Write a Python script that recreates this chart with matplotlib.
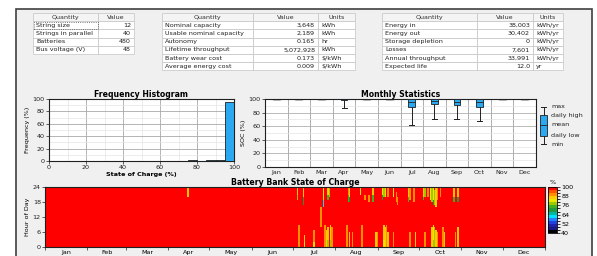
import numpy as np
import matplotlib.pyplot as plt
from matplotlib.patches import Rectangle
from matplotlib.colors import ListedColormap, BoundaryNorm

W, H = 597, 256

# ---- table data ----
t1_header = ["Quantity", "Value"]
t1_quantity = ["String size", "Strings in parallel", "Batteries", "Bus voltage (V)"]
t1_value = ["12", "40", "480", "48"]

t2_header = ["Quantity", "Value", "Units"]
t2_quantity = ["Nominal capacity", "Usable nominal capacity", "Autonomy",
               "Lifetime throughput", "Battery wear cost", "Average energy cost"]
t2_value = ["3,648", "2,189", "0.165", "5,072,928", "0.173", "0.009"]
t2_units = ["kWh", "kWh", "hr", "kWh", "$/kWh", "$/kWh"]

t3_header = ["Quantity", "Value", "Units"]
t3_quantity = ["Energy in", "Energy out", "Storage depletion", "Losses",
               "Annual throughput", "Expected life"]
t3_value = ["38,003", "30,402", "0", "7,601", "33,991", "12.0"]
t3_units = ["kWh/yr", "kWh/yr", "kWh/yr", "kWh/yr", "kWh/yr", "yr"]

# ---- frequency histogram (5% bins) ----
hist_left = [0, 5, 10, 15, 20, 25, 30, 35, 40, 45, 50, 55, 60, 65, 70, 75, 80, 85, 90, 95]
hist_freq = [0, 0, 0, 0, 0, 0, 0, 0, 0, 0, 0, 0, 0, 0, 0, 1.5, 0.2, 1.5, 2.3, 94.5]

# ---- monthly statistics ----
months = ["Jan", "Feb", "Mar", "Apr", "May", "Jun", "Jul", "Aug", "Sep", "Oct", "Nov", "Dec"]
month_days = [31, 28, 31, 30, 31, 30, 31, 31, 30, 31, 30, 31]
soc_max = [100, 100, 100, 100, 100, 100, 100, 100, 100, 100, 100, 100]
soc_high = [100, 100, 100, 100, 100, 100, 100, 100, 100, 100, 100, 100]
soc_mean = [100, 100, 100, 99.5, 100, 100, 95, 97, 96, 95, 100, 100]
soc_low = [100, 100, 100, 98.5, 100, 100, 88.5, 92, 91, 88.5, 100, 100]
soc_min = [100, 100, 100, 87, 100, 100, 62, 70, 70, 68, 100, 100]

# ---- state of charge dips: (day, hour from, hour to, soc %) ----
soc_dips = [
    (104, 20, 24, 86),
    (184, 21, 24, 84), (184, 19, 21, 76), (188, 20, 24, 86), (188, 17, 20, 70),
    (203, 19, 24, 80), (203, 16, 19, 62), (206, 21, 24, 84), (206, 19, 21, 74),
    (207, 20, 24, 78), (221, 21, 24, 88), (221, 18, 21, 72), (222, 20, 24, 84),
    (222, 18, 20, 70), (230, 21, 24, 80), (233, 19, 21, 88), (236, 18, 21, 88),
    (239, 21, 24, 86), (239, 18, 21, 72), (246, 21, 24, 80), (246, 19, 21, 70),
    (247, 20, 24, 78), (248, 20, 24, 84), (250, 20, 24, 88), (254, 20, 24, 80),
    (256, 18, 22, 90), (257, 17, 20, 88), (265, 20, 24, 84), (265, 18, 20, 72),
    (266, 19, 24, 90), (269, 18, 24, 90), (276, 20, 24, 84), (276, 19, 20, 72),
    (277, 20, 24, 78), (279, 20, 24, 88), (281, 19, 24, 82), (282, 18, 24, 76),
    (283, 17, 24, 80), (283, 17, 19, 70), (284, 17, 23, 76), (285, 16, 24, 86),
    (286, 19, 24, 90), (288, 20, 24, 90), (298, 20, 24, 84), (298, 18, 20, 72),
    (301, 20, 24, 86), (301, 18, 20, 70),
    (201, 8, 16, 88),
    (185, 0, 9, 88), (189, 0, 5, 86), (189, 0, 2, 80), (196, 0, 7, 88), (196, 0, 2, 80),
    (204, 0, 9, 88), (205, 0, 7, 86), (206, 0, 8, 84), (206, 0, 3, 78),
    (208, 0, 9, 86), (208, 0, 3, 78), (209, 0, 8, 88), (220, 0, 9, 88),
    (222, 0, 6, 86), (224, 0, 6, 88), (231, 0, 9, 88), (241, 0, 6, 86),
    (242, 0, 6, 88), (247, 0, 9, 86), (247, 0, 3, 80), (248, 0, 8, 84),
    (249, 0, 9, 88), (250, 0, 6, 86), (254, 0, 6, 88), (266, 0, 6, 88),
    (270, 0, 6, 86), (277, 0, 6, 88), (282, 0, 8, 86), (283, 0, 9, 80),
    (283, 0, 3, 76), (284, 0, 8, 78), (285, 0, 7, 84), (286, 0, 6, 88),
    (290, 0, 8, 88), (291, 0, 6, 86), (299, 0, 6, 88), (301, 0, 8, 86),
]

soc_colors = ['#000000', '#181880', '#2020b0', '#2040e0', '#2080ff', '#00e0ff',
              '#00b8a0', '#209840', '#40b020', '#a0c800', '#e8e800', '#ffc800',
              '#ff9000', '#ff5000', '#ff0000']
soc_bounds = list(range(40, 101, 4))

BLUE = '#2aa8f0'
FS = 4.6


def fx(x):
    return x / W


def fy(y):
    return 1 - y / H


fig = plt.figure(figsize=(W / 100, H / 100), dpi=100, facecolor='white')

# window frame
fig.add_artist(Rectangle((fx(16), fy(262)), fx(592) - fx(16), fy(9) - fy(262),
                         transform=fig.transFigure, facecolor='#f0f0f0',
                         edgecolor='#404040', linewidth=1.2, zorder=0))


def draw_table(edges, top, row_h, header, cols, aligns):
    nrows = len(cols[0]) + 1
    for r in range(nrows):
        y0 = top + r * row_h
        for c in range(len(edges) - 1):
            x0, x1 = edges[c], edges[c + 1]
            fig.add_artist(Rectangle((fx(x0), fy(y0 + row_h)), fx(x1) - fx(x0),
                                     fy(y0) - fy(y0 + row_h), transform=fig.transFigure,
                                     facecolor='white' if r > 0 else '#f4f4f4',
                                     edgecolor='#c4c4c4', linewidth=0.5, zorder=1))
            yc = fy(y0 + row_h / 2)
            if r == 0:
                fig.text(fx((x0 + x1) / 2), yc, header[c], ha='center', va='center',
                         fontsize=FS, color='#303030', zorder=2)
            else:
                txt = cols[c][r - 1]
                a = aligns[c]
                xt = x0 + 3 if a == 'left' else x1 - 3
                fig.text(fx(xt), yc, txt, ha=a, va='center', fontsize=FS,
                         color='#202020', zorder=2)


ROW = 8.2
draw_table([33, 98, 134], 13, ROW, t1_header, [t1_quantity, t1_value], ['left', 'right'])
fig.add_artist(Rectangle((fx(33.5), fy(13 + 2 * ROW - 0.5)), fx(97.5) - fx(33.5),
                         fy(13 + ROW + 0.5) - fy(13 + 2 * ROW - 0.5), transform=fig.transFigure,
                         fill=False, edgecolor='#505050', linestyle=':', linewidth=0.6, zorder=3))
draw_table([162, 253, 318, 355], 13, ROW, t2_header, [t2_quantity, t2_value, t2_units],
           ['left', 'right', 'left'])
draw_table([382, 477, 533, 563], 13, ROW, t3_header, [t3_quantity, t3_value, t3_units],
           ['left', 'right', 'left'])


def style_axes(ax):
    ax.set_facecolor('white')
    ax.tick_params(labelsize=FS, length=2, width=0.5, pad=1, colors='#202020')
    for s in ax.spines.values():
        s.set_linewidth(0.8)
        s.set_color('#202020')


# ---- histogram ----
ax1 = fig.add_axes([fx(49), fy(161), fx(234) - fx(49), fy(99) - fy(161)])
style_axes(ax1)
ax1.bar(hist_left, hist_freq, width=5, align='edge', color=BLUE, edgecolor='#202020',
        linewidth=0.6, zorder=3)
ax1.set_xlim(0, 100)
ax1.set_ylim(0, 100)
ax1.set_xticks(range(0, 101, 20))
ax1.set_yticks(range(0, 101, 20))
ax1.set_xticks(range(10, 100, 20), minor=True)
ax1.set_yticks(range(10, 100, 20), minor=True)
ax1.tick_params(which='minor', length=0)
ax1.grid(True, which='major', color='#a8a8a8', linewidth=0.6)
ax1.grid(True, which='minor', color='#e4e4e4', linewidth=0.5)
ax1.set_axisbelow(True)
ax1.set_title('Frequency Histogram', fontsize=5.6, fontweight='bold', pad=1.5)
ax1.set_xlabel('State of Charge (%)', fontsize=FS, fontweight='bold', labelpad=1)
ax1.set_ylabel('Frequency (%)', fontsize=FS, labelpad=2)

# ---- monthly statistics ----
ax2 = fig.add_axes([fx(265), fy(167), fx(536) - fx(265), fy(99) - fy(167)])
style_axes(ax2)
xm = np.arange(len(months))
ax2.set_xlim(-0.5, 11.5)
ax2.set_ylim(0, 100)
ax2.set_yticks(range(0, 101, 20))
ax2.set_yticks(range(10, 100, 20), minor=True)
ax2.tick_params(which='minor', length=0)
ax2.set_xticks(xm)
ax2.set_xticklabels(months)
ax2.tick_params(axis='x', length=0, pad=2)
ax2.set_xticks(xm[:-1] + 0.5, minor=True)
ax2.grid(True, axis='y', which='major', color='#b0b0b0', linewidth=0.6)
ax2.grid(True, axis='y', which='minor', color='#e4e4e4', linewidth=0.5)
ax2.grid(True, axis='x', which='minor', color='#a0a0a0', linewidth=0.6)
ax2.set_axisbelow(True)
bw, cw = 0.3, 0.22
for i in range(len(months)):
    ax2.plot([i, i], [soc_min[i], soc_low[i]], color='#202020', lw=0.7, zorder=3)
    ax2.plot([i - cw / 2, i + cw / 2], [soc_min[i], soc_min[i]], color='#202020', lw=0.7, zorder=3)
    ax2.plot([i - cw / 2, i + cw / 2], [soc_max[i], soc_max[i]], color='#202020', lw=0.9, zorder=3)
    if soc_high[i] - soc_low[i] > 0.5:
        ax2.add_patch(Rectangle((i - bw / 2, soc_low[i]), bw, soc_high[i] - soc_low[i],
                                facecolor=BLUE, edgecolor='#202020', lw=0.6, zorder=4))
        ax2.plot([i - bw / 2, i + bw / 2], [soc_mean[i], soc_mean[i]], color='#202020',
                 lw=0.6, zorder=5)
    else:
        ax2.plot([i - bw / 2, i + bw / 2], [soc_mean[i], soc_mean[i]], color='#202020',
                 lw=1.0, zorder=5)
ax2.set_title('Monthly Statistics', fontsize=5.6, fontweight='bold', pad=1.5)
ax2.set_ylabel('SOC (%)', fontsize=FS, labelpad=2)

# legend glyph
axl = fig.add_axes([fx(537), fy(148), fx(550) - fx(537), fy(103) - fy(148)])
axl.set_axis_off()
axl.set_xlim(0, 1)
axl.set_ylim(0, 1)
yv = {k: (148 - v) / 45 for k, v in
      dict(mx=107, hi=115, me=125, lo=136, mn=144).items()}
axl.plot([0.5, 0.5], [yv['mn'], yv['mx']], color='#202020', lw=0.7)
axl.plot([0.3, 0.7], [yv['mn'], yv['mn']], color='#202020', lw=0.7)
axl.plot([0.3, 0.7], [yv['mx'], yv['mx']], color='#202020', lw=0.7)
axl.add_patch(Rectangle((0.2, yv['lo']), 0.6, yv['hi'] - yv['lo'], facecolor=BLUE,
                        edgecolor='#202020', lw=0.6, zorder=3))
axl.plot([0.2, 0.8], [yv['me'], yv['me']], color='#202020', lw=0.6, zorder=4)
for lab, yy in [('max', 107), ('daily high', 116), ('mean', 125), ('daily low', 135), ('min', 144)]:
    fig.text(fx(551), fy(yy), lab, fontsize=FS, va='center', ha='left', color='#202020')

# ---- battery bank state of charge ----
soc = np.full((24, 365), 100.0)
for d, h0, h1, v in soc_dips:
    soc[h0:h1, d] = v
soc = np.clip(soc, 40, 99.9)

cmap = ListedColormap(soc_colors)
norm = BoundaryNorm(soc_bounds, cmap.N)
ax3 = fig.add_axes([fx(45), fy(247), fx(545) - fx(45), fy(187) - fy(247)])
style_axes(ax3)
im = ax3.imshow(soc, origin='lower', aspect='auto', extent=(0, 365, 0, 24),
                cmap=cmap, norm=norm, interpolation='nearest')
edges = np.concatenate([[0], np.cumsum(month_days)])
ax3.set_xticks(edges)
ax3.set_xticklabels([])
ax3.set_xticks((edges[:-1] + edges[1:]) / 2, minor=True)
ax3.set_xticklabels(months, minor=True)
ax3.tick_params(axis='x', which='minor', length=0, labelsize=FS, pad=2)
ax3.set_yticks(range(0, 25, 6))
ax3.set_ylabel('Hour of Day', fontsize=FS, labelpad=2)
ax3.set_title('Battery Bank State of Charge', fontsize=5.6, fontweight='bold', pad=1.5)

cax = fig.add_axes([fx(548), fy(233), fx(557) - fx(548), fy(187) - fy(233)])
cb = fig.colorbar(im, cax=cax, ticks=range(40, 101, 12))
cb.ax.tick_params(labelsize=FS, length=2, width=0.5, pad=1)
cb.outline.set_linewidth(0.6)
fig.text(fx(553), fy(183), '%', fontsize=FS, ha='center', va='center')

fig.savefig('out.png', dpi=100, facecolor='white')
